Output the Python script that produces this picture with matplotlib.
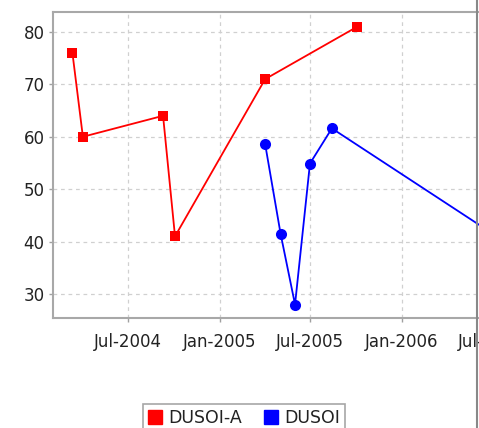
import matplotlib
matplotlib.use("Agg")
import matplotlib.pyplot as plt
import matplotlib.dates as mdates
from matplotlib.lines import Line2D
import numpy as np

# ---- data ----
red_dates = ["2004-03-11", "2004-04-01", "2004-09-09", "2004-10-03", "2005-04-02", "2005-10-04"]
red_values = [76, 60, 64, 41, 71, 81]
blue_dates = ["2005-04-02", "2005-05-03", "2005-06-01", "2005-07-01", "2005-08-14", "2006-08-01"]
blue_values = [58.6, 41.5, 28.0, 54.9, 61.6, 39.7]
series_names = ["DUSOI-A", "DUSOI"]
tick_dates = ["2004-07-01", "2005-01-01", "2005-07-01", "2006-01-01", "2006-07-01"]

W, H = 479, 428
fig = plt.figure(figsize=(W / 100, H / 100), dpi=100)
fig.patch.set_facecolor("white")

left_px, right_px, top_px, bot_px = 53, 520, 12, 318
ax = fig.add_axes([left_px / W, 1 - bot_px / H, (right_px - left_px) / W, (bot_px - top_px) / H])

rd = mdates.datestr2num(red_dates)
bd = mdates.datestr2num(blue_dates)

ax.plot(rd, red_values, color="#ff0000", lw=1.3, marker="s", markersize=7.2,
        markeredgewidth=0, zorder=3)
ax.plot(bd, blue_values, color="#0000ff", lw=1.3, marker="o", markersize=8,
        markeredgewidth=0, zorder=3)

x0 = mdates.datestr2num("2004-02-01")
ax.set_xlim(x0, x0 + (right_px - left_px) / 0.498)
ax.set_ylim(25.43, 83.8)

ax.set_xticks(mdates.datestr2num(tick_dates))
ax.xaxis.set_major_formatter(mdates.DateFormatter("%b-%Y"))
ax.set_yticks([30, 40, 50, 60, 70, 80])

ax.grid(True, color="#d0d0d0", linestyle=(0, (3, 3)), lw=0.9)
ax.set_axisbelow(True)
for s in ax.spines.values():
    s.set_color("#a8a8a8")
    s.set_linewidth(1.5)
ax.tick_params(axis="both", colors="#a0a0a0", labelcolor="#222222", labelsize=12,
               length=3, width=1, pad=3)
ax.tick_params(axis="x", pad=8)

handles = [Line2D([], [], color="#ff0000", marker="s", linestyle="none", markersize=10),
           Line2D([], [], color="#0000ff", marker="s", linestyle="none", markersize=10)]
leg = fig.legend(handles, series_names, loc="upper center",
                 bbox_to_anchor=(244 / W, 1 - 404 / H), ncol=2, frameon=True,
                 fancybox=False, fontsize=12.5, handlelength=0.8, handletextpad=0.35,
                 columnspacing=1.3, borderpad=0.3, borderaxespad=0)
leg.get_frame().set_edgecolor("#909090")
leg.get_frame().set_linewidth(1.2)
for t in leg.get_texts():
    t.set_color("#222222")

# panel border at right
fig.add_artist(Line2D([477 / W, 477 / W], [0, 1], transform=fig.transFigure,
                      color="#888888", lw=1.5))

fig.savefig("out.png", dpi=100, facecolor="white")
